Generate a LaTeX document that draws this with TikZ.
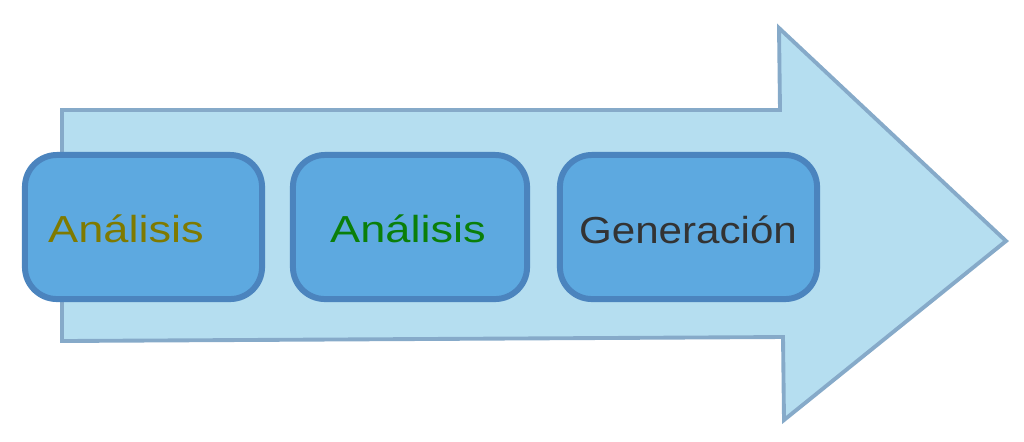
\documentclass[tikz,border=0pt]{standalone}
\usepackage{fontspec}
\usepackage{xcolor}
\newfontfamily\etiquetafont[FakeStretch=1.12]{Liberation Sans}
\newfontfamily\anchafont[FakeStretch=1.2]{Liberation Sans}
\definecolor{flechafondo}{HTML}{B5DEF0}
\definecolor{flechaborde}{HTML}{86AAC9}
\definecolor{cajafondo}{HTML}{5DA9E0}
\definecolor{cajaborde}{HTML}{4B84BE}
\definecolor{textoolivo}{HTML}{7F7A00}
\definecolor{textoverde}{HTML}{0A7F0A}
\definecolor{textogris}{HTML}{333333}
\tikzset{
    flecha/.style = {draw=flechaborde, fill=flechafondo, line width=1.1pt, line join=miter},
    caja/.style = {draw=cajaborde, fill=cajafondo, line width=1.7pt, rectangle, rounded corners=0.32cm, minimum height=1.44cm, inner sep=0pt},
    etiqueta/.style = {font=\etiquetafont\fontsize{10.7}{12}\selectfont, inner sep=0pt, anchor=base},
    etiqueta-ancha/.style = {etiqueta, font=\anchafont\fontsize{10.7}{12}\selectfont},
}
\begin{document}
\begin{tikzpicture}[x=0.01cm, y=-0.01cm]
\useasboundingbox (0,0) rectangle (1024,441);
% big arrow
\draw[flecha] (62,110) -- (780,110) -- (779,28) -- (1006,241) -- (784,420) -- (783,337) -- (62,341) -- cycle;
% boxes
\node[caja, minimum width=2.37cm] (analisis-a) at (143.5,227) {};
\node[caja, minimum width=2.34cm] (analisis-b) at (410,227) {};
\node[caja, minimum width=2.57cm] (generacion) at (688.5,227) {};
% texts
\node[etiqueta-ancha, text=textoolivo] (texto-a) at (126,242) {Análisis};
\node[etiqueta-ancha, text=textoverde] (texto-b) at (408,242) {Análisis};
\node[etiqueta, text=textogris] (texto-c) at (688,243) {Generación};
\end{tikzpicture}
\end{document}
